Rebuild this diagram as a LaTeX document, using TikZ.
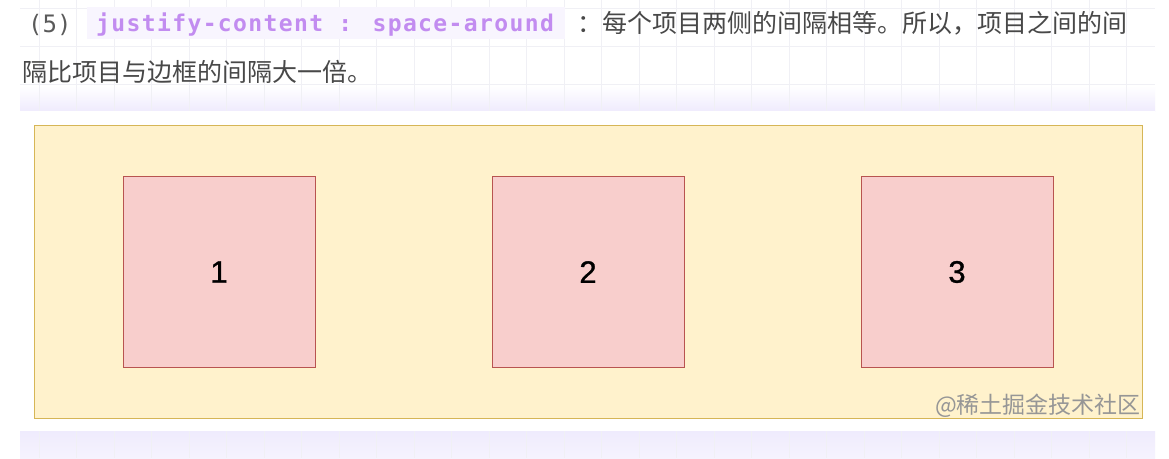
\documentclass[tikz,border=0pt]{standalone}
\usepackage{fontspec}
\newfontfamily\cjk{Noto Sans CJK SC}
\newfontfamily\codefont{DejaVu Sans Mono}
\newfontfamily\codesp[LetterSpace=6]{DejaVu Sans Mono}
\newfontfamily\numfont[FakeBold=1]{Liberation Sans}
\definecolor{band}{RGB}{239,235,253}
\definecolor{gridc}{RGB}{240,240,245}
\definecolor{codebg}{RGB}{248,245,254}
\definecolor{codefg}{RGB}{194,140,240}
\definecolor{txt}{RGB}{72,72,72}
\definecolor{yfill}{HTML}{FFF2CC}
\definecolor{ydraw}{HTML}{D6B656}
\definecolor{rfill}{HTML}{F8CECC}
\definecolor{rdraw}{HTML}{B85450}
\definecolor{wmc}{RGB}{150,150,150}
\tikzset{
  itembox/.style={draw=rdraw, fill=rfill, line width=1pt, minimum width=192pt, minimum height=191pt, inner sep=0pt,
    font=\numfont\fontsize{31}{31}\selectfont, text=black},
  contbox/.style={draw=ydraw, fill=yfill, line width=1.2pt, minimum width=1108pt, minimum height=293pt, inner sep=0pt, anchor=north west},
  txtline/.style={anchor=base west, inner sep=0pt, text=txt, font=\cjk\fontsize{25}{25}\selectfont},
}
\begin{document}
\begin{tikzpicture}[x=1pt,y=-1pt]
\useasboundingbox (0,0) rectangle (1169,458);
\fill[white] (0,0) rectangle (1169,458);
% bands
\shade[top color=white, bottom color=band] (20,86) rectangle (1155,111);
\shade[top color=band, bottom color=white!40!band] (20,431) rectangle (1155,458);
% grid
\foreach \i in {0,...,29} \draw[gridc, line width=0.8pt] ({39+37.5*\i},0) -- ({39+37.5*\i},458);
\foreach \j in {0,...,11} \draw[gridc, line width=0.8pt] (20,{8.5+38*\j}) -- (1155,{8.5+38*\j});
% image area
\fill[white] (20,111) rectangle (1155,431);
% code background
\fill[codebg] (87,7) rectangle (565,39);
% text
\node[anchor=base west, inner sep=0pt, text=txt!90, font=\codefont\fontsize{24}{24}\selectfont] (num) at (28,32) {(5)};
\node[anchor=base west, inner sep=0pt, text=codefg, font=\codesp\bfseries\fontsize{23}{23}\selectfont] (code) at (96,31) {justify-content : space-around};
\node[txtline] (l1) at (577,32) {：每个项目两侧的间隔相等。所以，项目之间的间};
\node[txtline] (l2) at (22,81) {隔比项目与边框的间隔大一倍。};
% diagram
\node[contbox] (cont) at (34,125) {};
\node[itembox] (b1) at (219,272) {1};
\node[itembox] (b2) at (588,272) {2};
\node[itembox] (b3) at (957,272) {3};
\node[anchor=base east, inner sep=0pt, text=wmc, font=\cjk\fontsize{23}{23}\selectfont] (wm) at (1141,413) {@稀土掘金技术社区};
\end{tikzpicture}
\end{document}
